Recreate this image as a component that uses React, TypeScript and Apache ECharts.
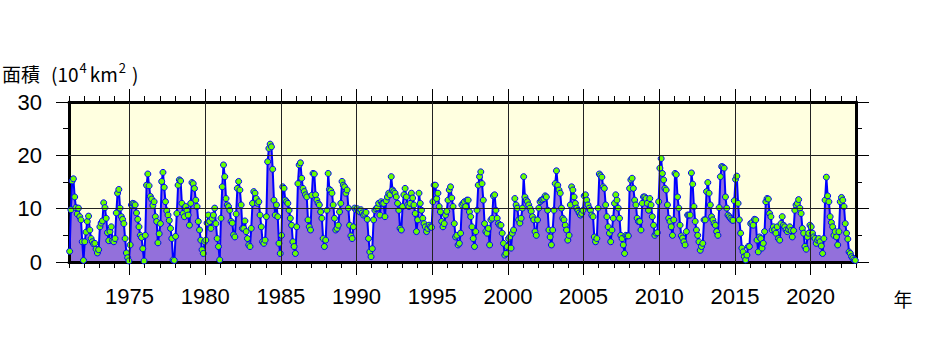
import React, { useEffect, useRef } from "react";
import * as echarts from "echarts";

// Monthly values (10^4 km^2), Jan..Dec of each year
const startYear = 1971;
const values1970s = [
  2.0, 9.8, 15.2, 15.6, 12.2, 10.2, 9.0, 10.1, 8.5, 7.9, 3.8, 0.3,
  3.8, 5.6, 7.6, 8.6, 6.0, 4.4, 3.8, 3.4, 3.5, 2.4, 1.7, 2.3,
  6.6, 7.3, 7.7, 11.1, 10.2, 8.2, 5.5, 4.0, 5.7, 6.6, 4.0, 3.8,
  4.4, 9.2, 12.9, 13.6, 10.1, 8.5, 8.0, 7.2, 4.4, 1.7, 0.8, 0.2,
  3.2, 10.7, 11.0, 10.9, 10.7, 9.2, 8.0, 6.6, 5.0, 4.6, 2.5, 0.2,
  5.0, 14.4, 16.5, 14.3, 12.3, 11.8, 10.6, 11.3, 8.5, 7.6, 3.6, 5.3,
  7.2, 15.1, 16.8, 14.0, 11.3, 9.6, 8.8, 7.8, 6.3, 4.4, 0.4, 0.3,
  4.8, 9.1, 14.4, 15.4, 15.2, 11.0, 9.1, 8.5, 10.4, 9.7, 8.8, 6.9,
  11.0, 14.9, 14.7, 13.8, 11.6, 10.4, 7.6, 6.0, 4.1, 2.3, 1.6, 3.8,
];
const values1980s = [
  4.1, 7.3, 8.8, 7.6, 6.3, 8.2, 8.8, 10.1, 7.2, 4.4, 2.9, 0.4,
  8.2, 14.1, 18.2, 16.0, 11.9, 10.7, 10.4, 9.7, 7.6, 7.3, 5.1, 4.7,
  9.0, 13.8, 15.1, 13.5, 10.7, 6.3, 6.3, 7.7, 5.7, 4.4, 3.2, 2.9,
  6.3, 11.0, 13.2, 12.9, 11.9, 11.0, 11.3, 8.8, 6.6, 3.8, 3.5, 4.1,
  8.5, 18.8, 21.3, 22.1, 21.6, 17.4, 11.6, 8.8, 10.7, 8.5, 3.5, 1.6,
  5.0, 14.1, 13.8, 11.6, 11.3, 11.0, 9.7, 8.2, 6.9, 3.8, 2.9, 1.6,
  6.6, 14.7, 18.2, 18.6, 15.7, 13.8, 13.2, 12.6, 12.2, 7.9, 6.6, 6.0,
  12.5, 16.6, 16.5, 12.6, 11.6, 11.0, 10.7, 9.4, 8.2, 4.4, 2.9, 4.1,
  9.7, 16.6, 13.6, 13.4, 12.9, 10.7, 8.2, 6.0, 6.3, 6.9, 9.4, 11.0,
  15.1, 14.4, 14.1, 12.9, 13.5, 10.1, 6.9, 4.9, 4.4, 6.6, 10.1, 9.8,
];
const values1990s = [
  10.0, 9.6, 9.4, 9.8, 9.2, 8.8, 9.0, 9.3, 8.0, 4.4, 1.9, 1.0,
  2.5, 7.9, 9.7, 10.0, 10.2, 11.0, 8.8, 11.3, 11.0, 11.0, 8.5, 11.5,
  12.2, 12.9, 12.6, 16.0, 13.5, 13.2, 12.9, 12.2, 11.0, 9.7, 6.3, 6.0,
  10.4, 12.6, 13.8, 12.2, 10.7, 10.4, 11.0, 12.9, 12.0, 10.7, 9.1, 5.7,
  7.9, 12.9, 11.0, 9.7, 8.2, 7.2, 6.6, 5.7, 6.3, 6.9, 6.6, 6.5,
  11.3, 14.4, 14.4, 11.9, 12.9, 10.4, 9.4, 7.6, 6.6, 7.2, 8.8, 9.5,
  11.6, 13.5, 14.1, 12.0, 10.4, 7.2, 4.7, 5.0, 3.2, 3.5, 5.4, 10.7,
  11.0, 11.3, 10.4, 11.6, 11.6, 9.4, 8.5, 6.6, 4.4, 2.9, 5.7, 9.7,
  14.4, 16.0, 16.9, 14.7, 11.6, 7.2, 5.7, 5.4, 6.3, 3.2, 7.9, 8.2,
  12.4, 12.6, 9.7, 8.2, 7.2, 6.9, 6.9, 5.4, 3.5, 1.3, 1.6, 2.9,
];
const values2000s = [
  4.4, 4.7, 2.6, 5.4, 6.0, 11.9, 10.7, 10.1, 7.9, 7.3, 8.2, 10.1,
  16.0, 12.2, 11.6, 11.3, 10.7, 10.1, 9.5, 8.5, 7.9, 5.7, 5.0, 7.9,
  10.1, 11.3, 11.6, 11.7, 11.9, 12.4, 12.2, 9.7, 6.0, 4.7, 3.2, 6.0,
  9.7, 14.7, 17.1, 14.4, 13.5, 12.9, 10.1, 8.2, 7.9, 6.9, 6.0, 4.1,
  5.0, 10.7, 14.1, 13.5, 12.2, 11.0, 10.1, 9.7, 9.2, 8.8, 9.1, 9.7,
  12.4, 12.6, 11.6, 10.7, 10.1, 9.7, 8.8, 8.5, 4.7, 3.8, 4.4, 10.1,
  16.5, 16.2, 15.9, 14.1, 13.8, 10.7, 8.5, 6.6, 5.4, 3.8, 6.0, 8.2,
  11.0, 12.6, 11.6, 10.1, 8.2, 5.0, 4.4, 3.2, 1.6, 5.0, 4.9, 4.9,
  13.8, 15.4, 15.7, 13.8, 11.6, 10.7, 8.2, 7.6, 7.6, 6.0, 11.0, 12.2,
  12.2, 11.9, 11.0, 9.7, 11.9, 10.7, 8.5, 6.9, 5.0, 5.4, 5.5, 11.3,
];
const values2010s = [
  17.6, 19.4, 16.6, 15.4, 13.8, 13.5, 10.7, 8.2, 7.6, 6.6, 5.0, 7.9,
  16.6, 16.4, 12.2, 10.1, 6.9, 4.9, 4.5, 3.8, 3.2, 5.7, 8.8, 8.8,
  8.8, 16.7, 14.6, 10.4, 7.6, 6.0, 5.0, 3.8, 2.2, 2.9, 3.5, 7.9,
  7.9, 13.2, 14.9, 12.9, 10.7, 8.5, 7.9, 7.2, 6.9, 5.7, 5.0, 10.2,
  16.0, 17.9, 17.8, 17.6, 12.2, 10.1, 8.8, 8.5, 8.2, 7.9, 7.8, 11.5,
  15.5, 16.1, 11.0, 7.9, 5.4, 2.6, 1.9, 1.0, 0.4, 1.3, 2.9, 2.9,
  7.2, 7.4, 6.9, 8.0, 7.9, 4.1, 1.9, 4.7, 4.4, 2.6, 3.5, 5.7,
  11.3, 11.9, 11.8, 9.1, 8.5, 6.0, 6.6, 6.0, 5.4, 6.6, 4.4, 4.1,
  7.2, 8.5, 6.9, 6.6, 6.0, 5.7, 6.1, 6.6, 5.9, 4.7, 5.9, 9.7,
  10.7, 11.0, 11.7, 10.1, 9.1, 6.3, 5.4, 2.9, 2.4, 4.7, 5.4, 6.9,
];
const values2020s = [
  6.6, 5.4, 4.7, 4.4, 3.5, 4.1, 4.4, 3.8, 3.0, 1.6, 4.4, 11.6,
  15.9, 12.4, 11.3, 8.5, 7.4, 6.6, 5.0, 5.7, 4.7, 3.2, 5.7, 11.3,
  12.1, 11.6, 10.4, 7.2, 5.4, 4.3, 1.9, 1.6, 1.0, 0.7, 0.4, 0.3,
];

const xMin = 1971;
const xMax = 2023;
const majorYears = [1975, 1980, 1985, 1990, 1995, 2000, 2005, 2010, 2015, 2020];
const gridValues = [10, 20];
const xTitle = "年";

const allValues = [
  ...values1970s,
  ...values1980s,
  ...values1990s,
  ...values2000s,
  ...values2010s,
  ...values2020s,
];
const seriesData = allValues.map((v, i) => [startYear + (i + 0.5) / 12, v]);

const tickFont = { fontFamily: "Liberation Sans", fontSize: 22, color: "#000" };
const cjk = "Noto Sans CJK JP";

export default function App() {
  const ref = useRef<HTMLDivElement>(null);
  useEffect(() => {
    if (!ref.current) return;
    const chart = echarts.init(ref.current, null, { renderer: "svg" });
    const minorX = (position: string) => ({
      type: "value",
      position,
      min: xMin,
      max: xMax,
      interval: 1,
      z: 2,
      axisLine: { show: true, onZero: false, lineStyle: { color: "#000", width: 3 } },
      axisTick: { show: true, length: 6, lineStyle: { color: "#000", width: 1 } },
      axisLabel: { show: false },
      splitLine: { show: false },
    });
    const majorX = (position: string, labels: boolean) => ({
      type: "value",
      position,
      min: xMin,
      max: xMax,
      z: 2,
      axisLine: { show: false, onZero: false },
      axisTick: { show: true, length: 13, customValues: majorYears, lineStyle: { color: "#000", width: 1 } },
      axisLabel: labels
        ? {
            show: true,
            customValues: majorYears,
            margin: 23,
            formatter: (v: number) => String(Math.round(v)),
            ...tickFont,
          }
        : { show: false },
      splitLine: { show: false },
    });
    const yAx = (position: string, labels: boolean) => ({
      type: "value",
      position,
      min: 0,
      max: 30,
      interval: 10,
      z: 2,
      axisLine: { show: true, onZero: false, lineStyle: { color: "#000", width: 3 } },
      axisTick: { show: true, length: 13, lineStyle: { color: "#000", width: 1 } },
      minorTick: { show: true, splitNumber: 2, length: 6, lineStyle: { color: "#000", width: 1 } },
      axisLabel: labels
        ? { show: true, margin: 27, formatter: (v: number) => String(v), ...tickFont }
        : { show: false },
      splitLine: { show: false },
    });
    chart.setOption({
      animation: false,
      backgroundColor: "#ffffff",
      grid: {
        left: 69,
        top: 102,
        width: 787,
        height: 160,
        show: true,
        backgroundColor: "#ffffe0",
        borderWidth: 0,
      },
      xAxis: [minorX("bottom"), majorX("bottom", true), minorX("top"), majorX("top", false)],
      yAxis: [yAx("left", true), yAx("right", false)],
      series: [
        {
          type: "line",
          xAxisIndex: 0,
          yAxisIndex: 0,
          z: 1,
          data: seriesData,
          showSymbol: false,
          symbol: "none",
          lineStyle: { width: 0 },
          areaStyle: { color: "#9370db", opacity: 1, origin: "start" },
          silent: true,
        },
        {
          type: "line",
          xAxisIndex: 0,
          yAxisIndex: 0,
          z: 2,
          data: [],
          silent: true,
          markLine: {
            silent: true,
            symbol: "none",
            label: { show: false },
            lineStyle: { color: "#222", width: 1, type: "solid" },
            emphasis: { disabled: true },
            data: [
              ...majorYears.map((y) => ({ xAxis: y })),
              ...gridValues.map((v) => ({ yAxis: v })),
            ],
          },
        },
        {
          type: "line",
          xAxisIndex: 0,
          yAxisIndex: 0,
          z: 3,
          data: seriesData,
          symbol: "circle",
          symbolSize: 6,
          showAllSymbol: true,
          lineStyle: { color: "#0000ff", width: 2 },
          itemStyle: { color: "#66ff00", borderColor: "#0000ff", borderWidth: 1 },
          silent: true,
        },
      ],
      graphic: [
        {
          type: "text",
          x: 2,
          y: 73,
          style: {
            text: "{a|面積}{p|(10}{s|4}{a|km}{s|2}{q|)}",
            fill: "#000",
            textAlign: "left",
            textVerticalAlign: "middle",
            rich: {
              a: { fontFamily: cjk, fontSize: 19, fill: "#000", lineHeight: 24 },
              p: { fontFamily: cjk, fontSize: 19, fill: "#000", lineHeight: 24, padding: [0, 0, 0, 11] },
              q: { fontFamily: cjk, fontSize: 19, fill: "#000", lineHeight: 24, padding: [0, 0, 0, 3] },
              s: { fontFamily: cjk, fontSize: 13, fill: "#000", lineHeight: 24, verticalAlign: "top", padding: [0, 3, 0, 1] },
            },
          },
        },
        {
          type: "text",
          x: 903,
          y: 298,
          style: {
            text: xTitle,
            fontFamily: cjk,
            fontSize: 19,
            fill: "#000",
            textAlign: "center",
            textVerticalAlign: "middle",
          },
        },
      ],
    });
    return () => chart.dispose();
  }, []);
  return (
    <div
      ref={ref}
      style={{ position: "absolute", left: 0, top: 0, width: 941, height: 350, background: "#fff" }}
    />
  );
}
